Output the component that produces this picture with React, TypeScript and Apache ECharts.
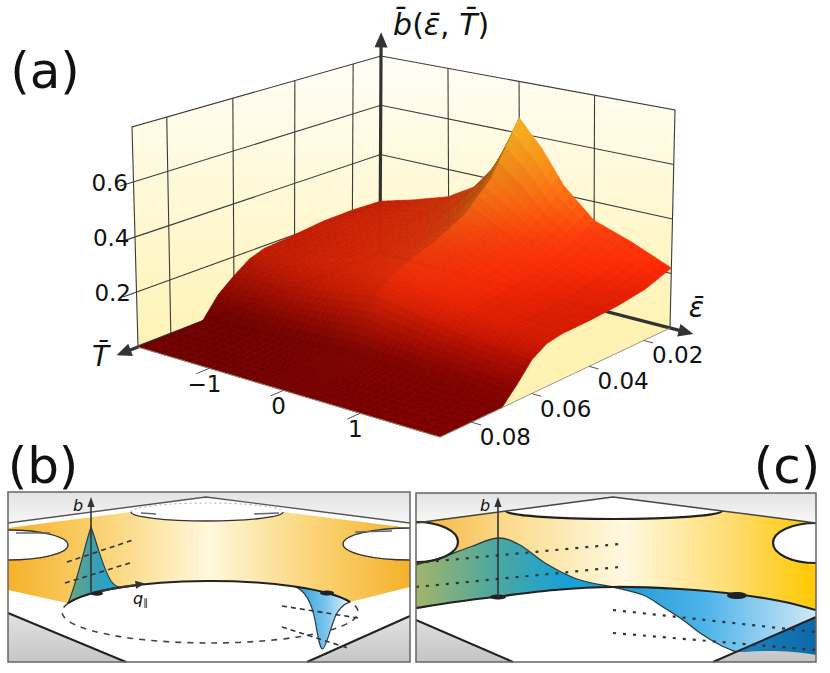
import React, { useEffect, useRef } from "react";
import * as echarts from "echarts";

const W = 830;
const H = 673;
const FONT = "DejaVu Sans";

/* ---------------- values ---------------- */
const T_VALUES = [-2, -1.5, -1, -0.6, -0.3, -0.15, 0, 0.15, 0.3, 0.6, 1, 1.5, 2];
const EPS_VALUES = [0.01, 0.02, 0.03, 0.04, 0.05, 0.055, 0.06, 0.065, 0.07, 0.08, 0.09];
const B_AT_EPS_010 = [0.21, 0.248, 0.293, 0.36, 0.47, 0.555, 0.66, 0.61, 0.562, 0.435, 0.33, 0.28, 0.22];
const B_AT_EPS_020 = [0.215, 0.24, 0.27, 0.315, 0.375, 0.42, 0.47, 0.44, 0.41, 0.345, 0.28, 0.225, 0.185];
const B_AT_EPS_030 = [0.213, 0.23, 0.252, 0.28, 0.315, 0.34, 0.365, 0.345, 0.325, 0.29, 0.24, 0.195, 0.17];
const B_AT_EPS_040 = [0.2, 0.215, 0.235, 0.258, 0.28, 0.295, 0.31, 0.298, 0.285, 0.258, 0.215, 0.18, 0.163];
const B_AT_EPS_050 = [0.19, 0.203, 0.218, 0.235, 0.25, 0.26, 0.27, 0.262, 0.252, 0.232, 0.198, 0.172, 0.16];
const B_AT_EPS_055 = [0.17, 0.185, 0.2, 0.215, 0.228, 0.236, 0.245, 0.238, 0.23, 0.212, 0.183, 0.162, 0.15];
const B_AT_EPS_060 = [0.128, 0.14, 0.155, 0.168, 0.18, 0.187, 0.195, 0.19, 0.182, 0.166, 0.145, 0.128, 0.117];
const B_AT_EPS_065 = [0.08, 0.082, 0.088, 0.094, 0.1, 0.105, 0.11, 0.106, 0.1, 0.092, 0.08, 0.068, 0.055];
const B_AT_EPS_070 = [0.005, 0.008, 0.012, 0.016, 0.02, 0.022, 0.025, 0.022, 0.02, 0.016, 0.012, 0.006, 0];
const B_AT_EPS_080 = [0, 0, 0, 0, 0, 0, 0, 0, 0, 0, 0, 0, 0];
const B_AT_EPS_090 = [0, 0, 0, 0, 0, 0, 0, 0, 0, 0, 0, 0, 0];
const B_SURFACE = [
  B_AT_EPS_010, B_AT_EPS_020, B_AT_EPS_030, B_AT_EPS_040, B_AT_EPS_050, B_AT_EPS_055,
  B_AT_EPS_060, B_AT_EPS_065, B_AT_EPS_070, B_AT_EPS_080, B_AT_EPS_090,
];

const T_RANGE = [-2, 2];
const EPS_RANGE = [0.01, 0.09];
const B_RANGE = [0, 0.8];
const B_TICKS = [0.2, 0.4, 0.6];
const B_TICK_LABELS = ["0.2", "0.4", "0.6"];
const T_TICKS = [-1, 0, 1];
const T_TICK_LABELS = ["\u22121", "0", "1"];
const EPS_TICKS = [0.02, 0.04, 0.06, 0.08];
const EPS_TICK_LABELS = ["0.02", "0.04", "0.06", "0.08"];
const T_WALL_GRID = [-1, 0, 1];
const EPS_WALL_GRID = [0.02, 0.04, 0.06, 0.08];
const B_WALL_GRID = [0.2, 0.4, 0.6];

/* ---------------- layout of the perspective box (pixels) ---------------- */
const FLOOR_BACK = [380, 253];
const FLOOR_RIGHT = [670, 328];
const FLOOR_FRONT = [440, 437];
const FLOOR_LEFT = [138, 347];
const TOP_BACK = [381, 56];
const TOP_RIGHT = [675, 110];
const TOP_FRONT = [434, 200];
const TOP_LEFT = [132, 127];

function homography(A: number[], B: number[], C: number[], D: number[]) {
  const dx1 = B[0] - C[0], dy1 = B[1] - C[1];
  const dx2 = D[0] - C[0], dy2 = D[1] - C[1];
  const dx3 = A[0] - B[0] + C[0] - D[0], dy3 = A[1] - B[1] + C[1] - D[1];
  const den = dx1 * dy2 - dy1 * dx2;
  const g = (dx3 * dy2 - dy3 * dx2) / den;
  const h = (dx1 * dy3 - dy1 * dx3) / den;
  const a = B[0] - A[0] + g * B[0], b = D[0] - A[0] + h * D[0], c = A[0];
  const d = B[1] - A[1] + g * B[1], e = D[1] - A[1] + h * D[1], f = A[1];
  return (u: number, v: number) => {
    const w = g * u + h * v + 1;
    return [(a * u + b * v + c) / w, (d * u + e * v + f) / w];
  };
}
const H_FLOOR = homography(FLOOR_BACK, FLOOR_RIGHT, FLOOR_FRONT, FLOOR_LEFT);
const H_TOP = homography(TOP_BACK, TOP_RIGHT, TOP_FRONT, TOP_LEFT);

const uOf = (t: number) => (t - T_RANGE[0]) / (T_RANGE[1] - T_RANGE[0]);
const vOf = (e: number) => (e - EPS_RANGE[0]) / (EPS_RANGE[1] - EPS_RANGE[0]);
const zOf = (b: number) => (b - B_RANGE[0]) / (B_RANGE[1] - B_RANGE[0]);

function project(t: number, e: number, b: number) {
  const u = uOf(t), v = vOf(e), z = zOf(b);
  const p = H_FLOOR(u, v), q = H_TOP(u, v);
  return [p[0] + (q[0] - p[0]) * z, p[1] + (q[1] - p[1]) * z];
}

/* ---------------- colours ---------------- */
const HEAT_STOPS = [
  [0.0, 126, 0, 0],
  [0.05, 138, 4, 0],
  [0.11, 176, 14, 0],
  [0.17, 214, 28, 2],
  [0.23, 238, 40, 6],
  [0.3, 240, 58, 10],
  [0.4, 242, 100, 16],
  [0.5, 244, 138, 24],
  [0.6, 246, 170, 30],
  [0.67, 250, 192, 36],
];
function heat(b: number) {
  const s = HEAT_STOPS;
  if (b <= s[0][0]) return s[0].slice(1);
  for (let k = 1; k < s.length; k++) {
    if (b <= s[k][0]) {
      const a = s[k - 1], c = s[k];
      const t = (b - a[0]) / (c[0] - a[0]);
      return [a[1] + (c[1] - a[1]) * t, a[2] + (c[2] - a[2]) * t, a[3] + (c[3] - a[3]) * t];
    }
  }
  return s[s.length - 1].slice(1);
}
const LIGHT = (() => {
  const l = [0.7, 0.25, 0.65];
  const n = Math.hypot(l[0], l[1], l[2]);
  return l.map((x) => x / n);
})();

const wallGrad = () =>
  new echarts.graphic.LinearGradient(0, 0, 0, 1, [
    { offset: 0, color: "#fffef7" },
    { offset: 1, color: "#fff3b4" },
  ]);

/* ---------------- drawing helpers ---------------- */
const pl = (pts: number[][], stroke: string, lw: number, dash?: number[]) => ({
  type: "polyline",
  shape: { points: pts },
  style: { fill: "none", stroke, lineWidth: lw, lineDash: dash || null },
});
const pg = (pts: number[][], fill: any, stroke?: string, lw?: number) => ({
  type: "polygon",
  shape: { points: pts },
  style: { fill, stroke: stroke || "none", lineWidth: lw || 0 },
});
function arrowHead(from: number[], to: number[], len: number, half: number) {
  const dx = to[0] - from[0], dy = to[1] - from[1];
  const L = Math.hypot(dx, dy);
  const ux = dx / L, uy = dy / L;
  const bx = to[0] - ux * len, by = to[1] - uy * len;
  return {
    head: [
      [to[0], to[1]],
      [bx - uy * half, by + ux * half],
      [bx + uy * half, by - ux * half],
    ],
    base: [to[0] - ux * len * 0.7, to[1] - uy * len * 0.7],
  };
}
function txt(text: string, x: number, y: number, size: number, align = "center", vAlign = "middle", italic = false, extra: any = {}) {
  return {
    type: "text",
    x,
    y,
    style: Object.assign(
      {
        text,
        fontSize: size,
        fontFamily: FONT,
        fontStyle: italic ? "italic" : "normal",
        fill: "#111",
        align,
        verticalAlign: vAlign,
        textAlign: align,
        textVerticalAlign: vAlign,
      },
      extra
    ),
  };
}

/* ---------------- panel (a) renderers ---------------- */
const T0 = T_RANGE[0], T1 = T_RANGE[1], E0 = EPS_RANGE[0], E1 = EPS_RANGE[1], B0 = B_RANGE[0], B1 = B_RANGE[1];

function renderBox(params: any, api: any) {
  const P = (t: number, e: number, b: number) => api.coord(project(t, e, b));
  const ch: any[] = [];
  ch.push(pg([P(T0, E0, B0), P(T1, E0, B0), P(T1, E1, B0), P(T0, E1, B0)], "#fff2b2"));
  ch.push(pg([P(T0, E1, B0), P(T0, E0, B0), P(T0, E0, B1), P(T0, E1, B1)], wallGrad()));
  ch.push(pg([P(T0, E0, B0), P(T1, E0, B0), P(T1, E0, B1), P(T0, E0, B1)], wallGrad()));
  const gc = "#3a3a3a";
  EPS_WALL_GRID.forEach((e) => ch.push(pl([P(T0, e, B0), P(T0, e, B1)], gc, 1.1)));
  T_WALL_GRID.forEach((t) => ch.push(pl([P(t, E0, B0), P(t, E0, B1)], gc, 1.1)));
  B_WALL_GRID.forEach((b) => ch.push(pl([P(T0, E1 + 0.004, b), P(T0, E0, b), P(T1, E0, b)], gc, 1.1)));
  ch.push(pl([P(T0, E1, B0), P(T0, E1, B1), P(T0, E0, B1), P(T1, E0, B1), P(T1, E0, B0)], gc, 1.1));

  const axisColor = "#333";
  const bFrom = P(T0, E0, B0), bTo = P(T0, E0, B1 * 1.12);
  const ah1 = arrowHead(bFrom, bTo, 15, 6.5);
  ch.push(pl([bFrom, ah1.base], axisColor, 3.2));
  ch.push(pg(ah1.head, axisColor));
  const eTo = P(T0 + 1.075 * (T1 - T0), E0, B0);
  const ah2 = arrowHead(bFrom, eTo, 15, 6.5);
  ch.push(pl([bFrom, ah2.base], axisColor, 3.2));
  ch.push(pg(ah2.head, axisColor));
  const tTo = P(T0, E0 + 1.08 * (E1 - E0), B0);
  const ah3 = arrowHead(bFrom, tTo, 15, 6.5);
  ch.push(pl([bFrom, ah3.base], axisColor, 3.2));
  ch.push(pg(ah3.head, axisColor));
  return { type: "group", children: ch };
}

function renderSurface(params: any, api: any) {
  const i = api.value(0) as number;
  const j = api.value(1) as number;
  const e0 = EPS_VALUES[i], e1 = EPS_VALUES[i + 1];
  const t0 = T_VALUES[j], t1 = T_VALUES[j + 1];
  const z00 = B_SURFACE[i][j], z01 = B_SURFACE[i][j + 1];
  const z10 = B_SURFACE[i + 1][j], z11 = B_SURFACE[i + 1][j + 1];
  const N = 4;
  const pt = (s: number, r: number) => {
    const b = z00 * (1 - s) * (1 - r) + z01 * (1 - s) * r + z10 * s * (1 - r) + z11 * s * r;
    return [t0 + (t1 - t0) * r, e0 + (e1 - e0) * s, b];
  };
  const children: any[] = [];
  for (let a = 0; a < N; a++) {
    for (let c = 0; c < N; c++) {
      const q = [pt(a / N, c / N), pt(a / N, (c + 1) / N), pt((a + 1) / N, (c + 1) / N), pt((a + 1) / N, c / N)];
      const ph = q.map((p) => [uOf(p[0]) * 300, vOf(p[1]) * 250, p[2] * 269]);
      const d1 = [ph[2][0] - ph[0][0], ph[2][1] - ph[0][1], ph[2][2] - ph[0][2]];
      const d2 = [ph[3][0] - ph[1][0], ph[3][1] - ph[1][1], ph[3][2] - ph[1][2]];
      const n = [d1[1] * d2[2] - d1[2] * d2[1], d1[2] * d2[0] - d1[0] * d2[2], d1[0] * d2[1] - d1[1] * d2[0]];
      const nl = Math.hypot(n[0], n[1], n[2]) || 1;
      const dot = (n[0] * LIGHT[0] + n[1] * LIGHT[1] + n[2] * LIGHT[2]) / nl;
      const uMid = uOf((q[0][0] + q[1][0]) / 2);
      let s = (0.86 + 0.14 * uMid) * (1 + 0.3 * (dot - LIGHT[2]));
      s = Math.max(0.6, Math.min(1.15, s));
      const bMid = (q[0][2] + q[1][2] + q[2][2] + q[3][2]) / 4;
      const base = heat(bMid);
      const col =
        "rgb(" +
        Math.min(255, Math.round(base[0] * s)) + "," +
        Math.min(255, Math.round(base[1] * s)) + "," +
        Math.min(255, Math.round(base[2] * s)) + ")";
      const pts = q.map((p) => api.coord(project(p[0], p[1], p[2])));
      children.push({ type: "polygon", shape: { points: pts }, style: { fill: col, stroke: col, lineWidth: 0.7 } });
    }
  }
  return { type: "group", children };
}

function renderAnnot(params: any, api: any) {
  const P = (t: number, e: number, b: number) => api.coord(project(t, e, b));
  const ch: any[] = [];
  ch.push(pl([P(T0, E1, B0), P(T1, E1, B0), P(T1, E0, B0)], "#9a8a70", 0.9));
  T_TICKS.forEach((t, k) => {
    const a = P(t, E1, B0);
    ch.push(pl([a, P(t, E1 + 0.004, B0)], "#555", 1));
    ch.push(txt(T_TICK_LABELS[k], a[0] - 5, a[1] + 16, 23));
  });
  EPS_TICKS.forEach((e, k) => {
    const a = P(T1, e, B0);
    ch.push(pl([a, P(T1 + 0.12, e, B0)], "#555", 1));
    ch.push(txt(EPS_TICK_LABELS[k], a[0] + 34, a[1] + 15, 23));
  });
  B_TICKS.forEach((b, k) => {
    const a = P(T0, E1, b);
    ch.push(txt(B_TICK_LABELS[k], a[0] - 5.5, a[1] + 1, 23, "right"));
  });
  const tip = P(T0, E0, B1 * 1.12);
  ch.push({
    type: "text",
    x: tip[0] + 12,
    y: tip[1] - 8,
    style: {
      text: "{i|b\u0304}{n|(}{i|\u03b5\u0304}{n|, }{i|T\u0304}{n|)}",
      align: "left",
      verticalAlign: "middle",
      textAlign: "left",
      textVerticalAlign: "middle",
      fontSize: 30,
      fontFamily: FONT,
      fill: "#111",
      rich: {
        i: { fontSize: 30, fontFamily: FONT, fontStyle: "italic", fill: "#111" },
        n: { fontSize: 30, fontFamily: FONT, fontStyle: "normal", fill: "#111" },
      },
    },
  });
  const tTip = P(T0, E0 + 1.08 * (E1 - E0), B0);
  ch.push(txt("T\u0304", tTip[0] - 16, tTip[1] + 1, 28, "center", "middle", true));
  const eTip = P(T0 + 1.075 * (T1 - T0), E0, B0);
  ch.push(txt("\u03b5\u0304", eTip[0] + 3, eTip[1] - 27, 28, "center", "middle", true));
  return { type: "group", children: ch };
}

/* ---------------- panels (b) and (c): schematic shapes ---------------- */
const f1 = (n: number) => (Math.round(n * 10) / 10).toString();
function ellY(e: any, x: number, top: boolean) {
  const t = (x - e.cx) / e.rx;
  const k = e.ry * Math.sqrt(Math.max(0, 1 - t * t));
  return top ? e.cy - k : e.cy + k;
}
function smoothPath(pts: number[][], move: boolean) {
  let d = move ? "M " + f1(pts[0][0]) + " " + f1(pts[0][1]) : "";
  for (let k = 0; k < pts.length - 1; k++) {
    const p0 = pts[Math.max(0, k - 1)], p1 = pts[k], p2 = pts[k + 1], p3 = pts[Math.min(pts.length - 1, k + 2)];
    const c1 = [p1[0] + (p2[0] - p0[0]) / 6, p1[1] + (p2[1] - p0[1]) / 6];
    const c2 = [p2[0] - (p3[0] - p1[0]) / 6, p2[1] - (p3[1] - p1[1]) / 6];
    d += " C " + f1(c1[0]) + " " + f1(c1[1]) + " " + f1(c2[0]) + " " + f1(c2[1]) + " " + f1(p2[0]) + " " + f1(p2[1]);
  }
  return d;
}

const PB_LOW = { cx: 210, cy: 612, rx: 148, ry: 31 };
const yLow = (x: number) => ellY(PB_LOW, x, true);
const PC_LB = [[416, 608], [455, 602], [498, 596.5], [555, 590], [613, 587], [680, 589], [743, 595], [785, 602], [816, 610]];
const PC_G = [[416, 565], [443, 557], [470, 547], [498, 538], [520, 545], [545, 563], [577, 579], [613, 587]];
const PC_UP = [[736, 652], [720, 645], [700, 633], [683, 620], [663, 607], [643, 595], [613, 587]];

let shapesDone = false;
function registerShapes() {
  if (shapesDone) return;
  shapesDone = true;
  const S: Record<string, string> = {};
  S.pb_band =
    "M 8 528 L 131 512 A 76 9 0 0 0 283 512 L 410 528 A 67 16 0 0 0 410 560 L 410 587 L 350 " + f1(yLow(350)) +
    " A 148 31 0 0 0 68 " + f1(yLow(68)) + " L 8 590 L 8 560 A 60 15 0 0 0 8 530 Z";
  S.pb_lowDash = "M 68 " + f1(yLow(68)) + " A 148 31 0 1 0 350 " + f1(yLow(350));
  S.pb_lowTop = "M 68 " + f1(yLow(68)) + " A 148 31 0 0 1 350 " + f1(yLow(350));
  S.pb_topDot = "M 131 512 A 76 9 0 0 1 283 512";
  S.pb_holes = "M 8 560 A 60 15 0 0 0 8 530 M 410 528 A 67 16 0 0 0 410 560 M 131 512 A 76 9 0 0 0 283 512";
  S.pb_peak =
    "M 68 " + f1(yLow(68)) + " C 77 582 85 545 91 527 C 97 543 103 569 111 581 C 113.5 584.5 116.5 586.5 120 " +
    f1(yLow(120)) + " A 148 31 0 0 0 68 " + f1(yLow(68)) + " Z";
  S.pb_dip =
    "M 295 " + f1(yLow(295)) + " C 304 590 311 600 315 620 C 318 637 320 649 322.5 649 C 325.5 649 329 633 335 617 C 339 608 344 604 350 " +
    f1(yLow(350)) + " A 148 31 0 0 0 295 " + f1(yLow(295)) + " Z";
  S.pb_q = "M 91 " + f1(yLow(91)) + " A 148 31 0 0 1 136 " + f1(yLow(136));

  const lbRev = PC_LB.slice().reverse();
  S.pc_band =
    "M 416 522 L 506 511 A 108 8 0 0 0 722 511 L 816 523 A 43 20 0 0 0 816 563 L 816 610" +
    smoothPath(lbRev, false) + " L 416 562 A 42 20 0 0 0 416 522 Z";
  S.pc_green = smoothPath(PC_G, true) + smoothPath(PC_LB.slice(0, 5).reverse(), false) + " Z";
  S.pc_blue = smoothPath(PC_LB.slice(4), true) + " L 816 617 L 736 652" + smoothPath(PC_UP, false) + " Z";
  S.pc_dark = "M 736 652 L 816 617 L 816 655 C 795 651 768 650 745 652 Z";
  S.pc_lines =
    smoothPath(PC_LB, true) +
    " M 416 562 A 42 20 0 0 0 416 522 M 816 523 A 43 20 0 0 0 816 563 M 506 511 A 108 8 0 0 0 722 511";
  S.pc_gline = smoothPath(PC_G, true);
  S.pc_uline = smoothPath(PC_UP, true);
  Object.keys(S).forEach((k) => {
    echarts.graphic.registerShape(k, echarts.graphic.extendPath(S[k], {}));
  });
}

const lg = (x2: number, y2: number, stops: [number, string][]) =>
  new echarts.graphic.LinearGradient(0, 0, x2, y2, stops.map(([offset, color]) => ({ offset, color })));

function line(x1: number, y1: number, x2: number, y2: number, stroke: string, lw: number, dash?: number[]) {
  return { type: "line", shape: { x1, y1, x2, y2 }, style: { stroke, lineWidth: lw, lineDash: dash || null } };
}
function gtext(text: string, x: number, y: number, size: number, italic = false, extra: any = {}) {
  return {
    type: "text",
    x,
    y,
    style: Object.assign(
      {
        text,
        fontSize: size,
        fontFamily: FONT,
        fontStyle: italic ? "italic" : "normal",
        fill: "#111",
        align: "center",
        verticalAlign: "middle",
        textAlign: "center",
        textVerticalAlign: "middle",
      },
      extra
    ),
  };
}
function upArrow(x: number, yBottom: number, yTip: number) {
  return [
    line(x, yBottom, x, yTip + 8, "#333", 1.6),
    { type: "polygon", shape: { points: [[x, yTip], [x - 3.6, yTip + 10], [x + 3.6, yTip + 10]] }, style: { fill: "#333" } },
  ];
}

function panelB() {
  const els: any[] = [];
  els.push({ type: "rect", shape: { x: 8, y: 492, width: 402, height: 170 }, style: { fill: "#fff" } });
  els.push({
    type: "polygon",
    shape: { points: [[8, 492], [410, 492], [410, 523], [206, 497], [8, 523]] },
    style: { fill: lg(0, 1, [[0, "#e3e3e3"], [1, "#f6f6f6"]]) },
  });
  els.push({ type: "polygon", shape: { points: [[8, 613], [126, 662], [8, 662]] }, style: { fill: lg(0, 1, [[0, "#e2e2e2"], [1, "#c6c6c6"]]) } });
  els.push({ type: "polygon", shape: { points: [[307, 662], [410, 616], [410, 662]] }, style: { fill: lg(0, 1, [[0, "#e2e2e2"], [1, "#c6c6c6"]]) } });
  els.push({
    type: "pb_band",
    style: { fill: lg(1, 0, [[0, "#f5b12a"], [0.25, "#fbd57a"], [0.5, "#fff8dc"], [0.75, "#fbd57a"], [1, "#f5b12a"]]) },
  });
  els.push({ type: "pb_lowDash", style: { fill: "none", stroke: "#444", lineWidth: 1.6, lineDash: [6, 6] } });
  els.push({ type: "pb_topDot", style: { fill: "none", stroke: "#b5b5b5", lineWidth: 1.2, lineDash: [2, 3] } });
  els.push({
    type: "pb_peak",
    style: { fill: lg(1, 0, [[0, "#72a77a"], [0.45, "#3f9fae"], [1, "#16a6e0"]]), stroke: "#2c3c3c", lineWidth: 1.2 },
  });
  els.push({
    type: "pb_dip",
    style: { fill: lg(1, 0, [[0, "#2a9edb"], [0.55, "#78c4ec"], [1, "#e6f4fb"]]), stroke: "#2c3c4c", lineWidth: 1.2 },
  });
  els.push({ type: "pb_lowTop", style: { fill: "none", stroke: "#222", lineWidth: 2 } });
  els.push({ type: "pb_holes", style: { fill: "none", stroke: "#333", lineWidth: 1.4 } });
  els.push({ type: "polyline", shape: { points: [[8, 523], [206, 497], [410, 523]] }, style: { fill: "none", stroke: "#555", lineWidth: 1.4 } });
  els.push(line(8, 613, 126, 662, "#222", 2));
  els.push(line(307, 662, 410, 616, "#222", 2));
  els.push(line(67, 562, 133, 540, "#333", 1.6, [5, 4]));
  els.push(line(65, 583, 133, 562, "#333", 1.6, [5, 4]));
  els.push(line(282, 606, 358, 618, "#333", 1.6, [5, 4]));
  els.push(line(282, 627, 348, 648, "#333", 1.6, [5, 4]));
  els.push(line(16, 533, 50, 533, "#666", 1.4));
  els.push(line(355, 532, 392, 531, "#666", 1.4));
  els.push(line(141, 513, 156, 514, "#666", 1.4));
  els.push(line(254, 514, 279, 513, "#666", 1.4));
  els.push({ type: "pb_q", style: { fill: "none", stroke: "#333", lineWidth: 2.2 } });
  const qe = [136, yLow(136)];
  els.push({
    type: "polygon",
    shape: { points: [[qe[0] + 9, qe[1] - 1.6], [qe[0] - 1, qe[1] - 4.5], [qe[0] + 0.2, qe[1] + 3.6]] },
    style: { fill: "#333" },
  });
  els.push({ type: "ellipse", shape: { cx: 97, cy: 593.5, rx: 6, ry: 2.2 }, style: { fill: "#222" } });
  els.push({ type: "ellipse", shape: { cx: 327, cy: 593, rx: 7, ry: 2.5 }, style: { fill: "#222" } });
  upArrow(91, 594, 497).forEach((e) => els.push(e));
  els.push(gtext("b", 78, 505, 16, true));
  els.push({
    type: "text",
    x: 133,
    y: 598,
    style: {
      text: "{q|q}{s|\u2225}",
      align: "left",
      verticalAlign: "middle",
      textAlign: "left",
      textVerticalAlign: "middle",
      fontSize: 16,
      fontFamily: FONT,
      fill: "#111",
      rich: {
        q: { fontSize: 16, fontFamily: FONT, fontStyle: "italic", fill: "#111" },
        s: { fontSize: 10, fontFamily: FONT, fill: "#111", padding: [8, 0, 0, 0] },
      },
    },
  });
  els.push({ type: "rect", shape: { x: 8, y: 492, width: 402, height: 170 }, style: { fill: "none", stroke: "#666", lineWidth: 1.5 } });
  return els;
}

function panelC() {
  const els: any[] = [];
  els.push({ type: "rect", shape: { x: 416, y: 493, width: 400, height: 169 }, style: { fill: "#fff" } });
  els.push({
    type: "polygon",
    shape: { points: [[416, 493], [816, 493], [816, 523], [613, 497], [416, 523]] },
    style: { fill: lg(0, 1, [[0, "#e3e3e3"], [1, "#f8f8f8"]]) },
  });
  els.push({ type: "polygon", shape: { points: [[416, 620], [513, 662], [416, 662]] }, style: { fill: lg(0, 1, [[0, "#dedede"], [1, "#c4c4c4"]]) } });
  els.push({ type: "polygon", shape: { points: [[713, 662], [816, 617], [816, 662]] }, style: { fill: lg(0, 1, [[0, "#dedede"], [1, "#c4c4c4"]]) } });
  els.push({
    type: "pc_band",
    style: { fill: lg(1, 0, [[0, "#f5b43a"], [0.22, "#fbd98a"], [0.52, "#fff9e0"], [0.8, "#fedb6a"], [1, "#ffc800"]]) },
  });
  els.push({
    type: "pc_green",
    style: { fill: lg(1, 0, [[0, "#a2b46a"], [0.4, "#4ca8a0"], [0.75, "#1aa0d6"], [1, "#1a9ed8"]]) },
  });
  els.push({ type: "pc_blue", style: { fill: lg(1, 0, [[0, "#1c9ad8"], [0.45, "#4db3e8"], [1, "#cfe9f8"]]) } });
  els.push({ type: "pc_dark", style: { fill: lg(1, 0, [[0, "#1e82c2"], [1, "#0c69a6"]]) } });
  els.push({ type: "pc_gline", style: { fill: "none", stroke: "#2c3c3c", lineWidth: 1.3 } });
  els.push({ type: "pc_uline", style: { fill: "none", stroke: "#2c3c3c", lineWidth: 1.3 } });
  els.push({ type: "pc_lines", style: { fill: "none", stroke: "#222", lineWidth: 2.2 } });
  els.push({ type: "polyline", shape: { points: [[416, 523], [613, 497], [816, 523]] }, style: { fill: "none", stroke: "#444", lineWidth: 1.5 } });
  els.push(line(416, 620, 513, 662, "#222", 2));
  els.push(line(713, 662, 816, 617, "#222", 2));
  els.push(line(416, 563, 620, 544, "#333", 2.2, [3, 7]));
  els.push(line(416, 587, 620, 567, "#333", 2.2, [3, 7]));
  els.push(line(613, 610, 816, 632, "#333", 2.2, [3, 7]));
  els.push(line(613, 633, 816, 650, "#333", 2.2, [3, 7]));
  els.push({ type: "ellipse", shape: { cx: 498, cy: 597, rx: 8, ry: 2.5 }, style: { fill: "#222" } });
  els.push({ type: "ellipse", shape: { cx: 737, cy: 595.5, rx: 10, ry: 3.5 }, style: { fill: "#222" } });
  upArrow(498, 597, 497).forEach((e) => els.push(e));
  els.push(gtext("b", 485, 505, 16, true));
  els.push({ type: "rect", shape: { x: 416, y: 493, width: 400, height: 169 }, style: { fill: "none", stroke: "#666", lineWidth: 1.5 } });
  return els;
}

function buildOption() {
  const cells: number[][] = [];
  for (let i = 0; i < EPS_VALUES.length - 1; i++) {
    for (let j = 0; j < T_VALUES.length - 1; j++) cells.push([i, j]);
  }
  const depth = (c: number[]) =>
    uOf((T_VALUES[c[1]] + T_VALUES[c[1] + 1]) / 2) + vOf((EPS_VALUES[c[0]] + EPS_VALUES[c[0] + 1]) / 2);
  cells.sort((a, b) => depth(a) - depth(b));

  return {
    animation: false,
    backgroundColor: "#ffffff",
    grid: { left: 0, right: 0, top: 0, bottom: 0, containLabel: false },
    xAxis: { type: "value", min: 0, max: W, show: false },
    yAxis: { type: "value", min: 0, max: H, inverse: true, show: false },
    series: [
      { type: "custom", name: "box", silent: true, z: 1, data: [[0, 0]], renderItem: renderBox },
      { type: "custom", name: "surface", silent: true, z: 2, data: cells, renderItem: renderSurface },
      { type: "custom", name: "annotations", silent: true, z: 3, data: [[0, 0]], renderItem: renderAnnot },
    ],
    graphic: [
      ...panelB(),
      ...panelC(),
      gtext("(a)", 45, 71, 50),
      gtext("(b)", 43, 466, 50),
      gtext("(c)", 787, 466, 50),
    ],
  };
}

export default function App() {
  const ref = useRef<HTMLDivElement>(null);
  useEffect(() => {
    registerShapes();
    const chart = echarts.init(ref.current as HTMLDivElement, undefined, { renderer: "svg", width: W, height: H });
    chart.setOption(buildOption() as any);
    return () => chart.dispose();
  }, []);
  return (
    <div
      ref={ref}
      style={{ position: "absolute", left: 0, top: 0, width: W, height: H, background: "#fff" }}
    />
  );
}
